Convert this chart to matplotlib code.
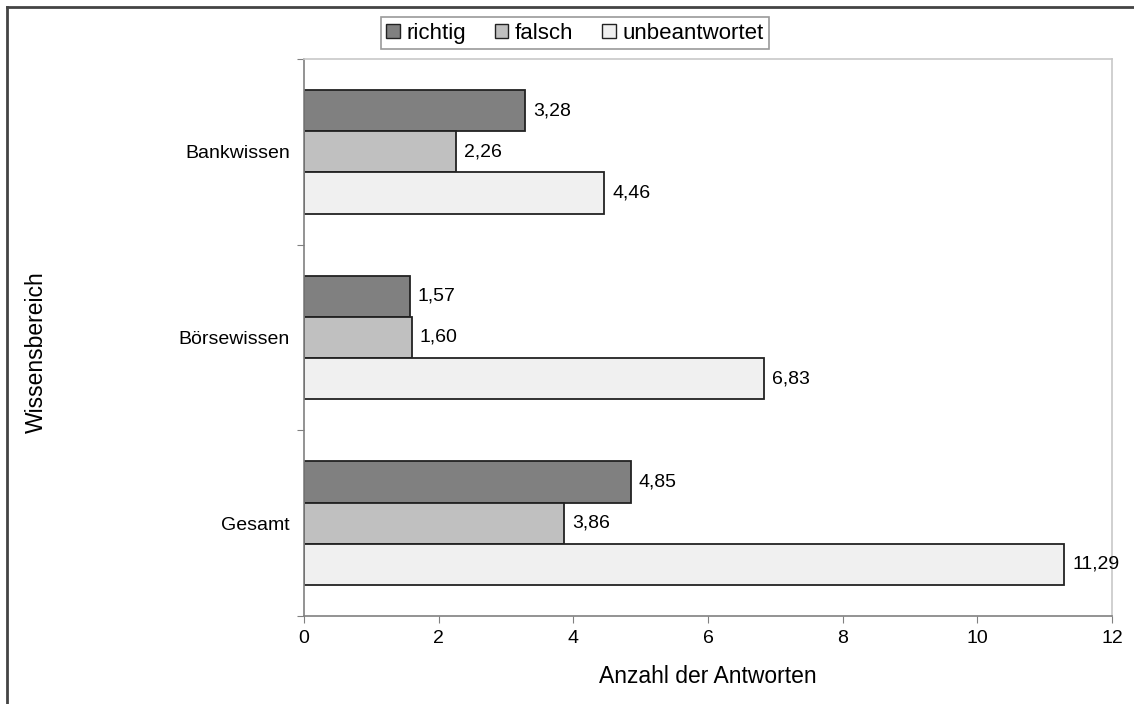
import numpy as np
import matplotlib.pyplot as plt
from matplotlib.lines import Line2D

plt.rcParams['font.family'] = ['Liberation Sans', 'DejaVu Sans']

categories = ["Bankwissen", "Börsewissen", "Gesamt"]
series = ["richtig", "falsch", "unbeantwortet"]
richtig = [3.28, 1.57, 4.85]
falsch = [2.26, 1.60, 3.86]
unbeantwortet = [4.46, 6.83, 11.29]
colors = ["#808080", "#c0c0c0", "#f0f0f0"]

fig = plt.figure(figsize=(11.34, 7.04), dpi=100)
ax = fig.add_axes([0.268, 0.125, 0.7126, 0.7912])

y = np.arange(len(categories))
h = 0.222
for i, (name, vals) in enumerate(zip(series, [richtig, falsch, unbeantwortet])):
    pos = y + (i - 1) * h
    ax.barh(pos, vals, height=h, color=colors[i], edgecolor="#222222",
            linewidth=1.3, label=name)
    for p, v in zip(pos, vals):
        ax.annotate(f"{v:.2f}".replace(".", ","), (v, p), xytext=(6, 0),
                    textcoords="offset points", va="center", ha="left",
                    fontsize=14)

ax.set_xlim(0, 12)
ax.set_ylim(len(categories) - 0.5, -0.5)
ax.set_xticks(np.arange(0, 13, 2))
ax.set_yticks(np.arange(-0.5, len(categories), 1))
ax.set_yticklabels([])
ax.set_yticks(y, minor=True)
ax.set_yticklabels(categories, minor=True)
ax.tick_params(axis="y", which="minor", length=0, pad=10, labelsize=14)
ax.tick_params(axis="y", which="major", length=5, color="#808080", direction="out")
ax.tick_params(axis="x", length=5, color="#808080", pad=5, labelsize=14)

for s in ["left", "bottom"]:
    ax.spines[s].set_color("#808080")
    ax.spines[s].set_linewidth(1.2)
for s in ["top", "right"]:
    ax.spines[s].set_color("#c8c8c8")
    ax.spines[s].set_linewidth(1.2)

ax.set_xlabel("Anzahl der Antworten", fontsize=16.5, labelpad=13)
fig.text(0.032, 0.5, "Wissensbereich", rotation=90, fontsize=16.5,
         va="center", ha="center")

leg = fig.legend(loc="center", bbox_to_anchor=(0.507, 0.953), ncol=3,
                 fontsize=16, frameon=True, fancybox=False,
                 handlelength=0.6, handleheight=0.6, handletextpad=0.3,
                 columnspacing=1.3, borderpad=0.25)
leg.get_frame().set_edgecolor("#808080")
leg.get_frame().set_linewidth(1.2)
for patch in leg.get_patches():
    patch.set_linewidth(1.0)

# outer chart frame (left and top edges visible)
fig.add_artist(Line2D([0.0066, 0.0066], [0, 0.99], transform=fig.transFigure,
                      color="#444444", linewidth=2))
fig.add_artist(Line2D([0.0066, 1.0], [0.99, 0.99], transform=fig.transFigure,
                      color="#444444", linewidth=2))

fig.savefig("out.png", dpi=100)
